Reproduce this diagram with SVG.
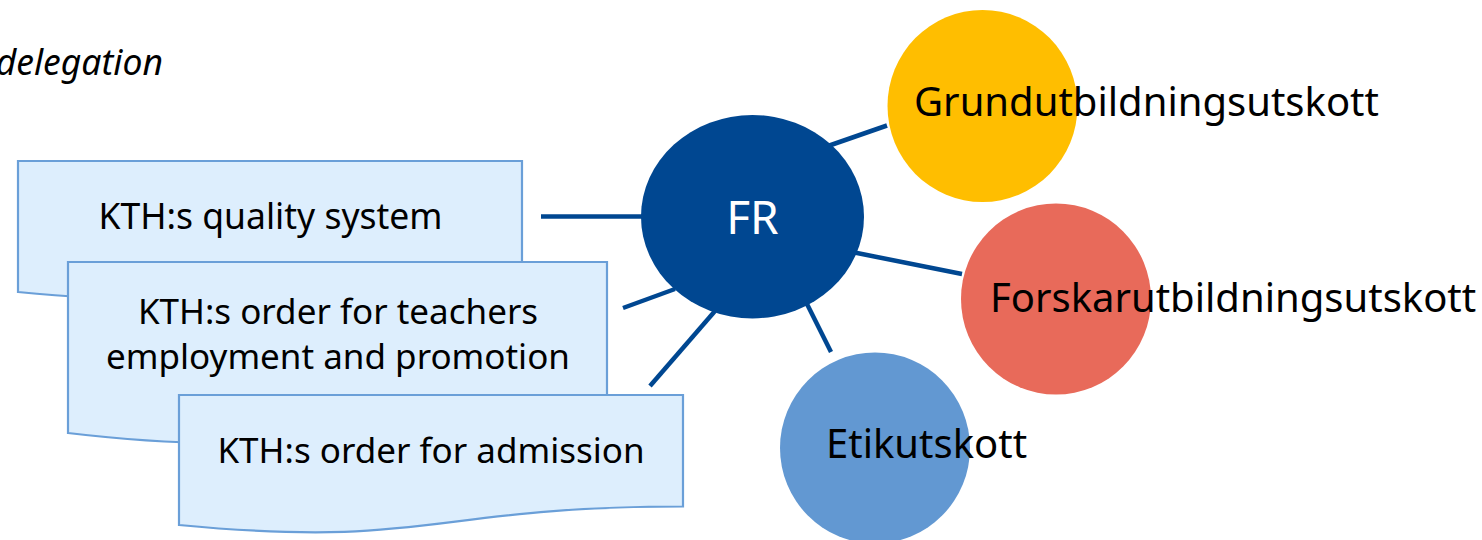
<svg xmlns="http://www.w3.org/2000/svg" width="1482" height="540" viewBox="0 0 1482 540">
<style>
.doc{fill:#DDEEFD;stroke:#6A9FD8;stroke-width:2.2}
.t{font-family:"Noto Sans","Open Sans","DejaVu Sans",sans-serif;fill:#000}
.bt{font-size:35px;text-anchor:middle}
.ct{font-size:40px}
.conn line{stroke:#004791;stroke-width:4.5;stroke-linecap:butt}
</style>
<rect width="1482" height="540" fill="#fff"/>
<text class="t" x="163" y="75" font-size="35.5" font-style="italic" text-anchor="end">delegation</text>
<g id="conn" class="conn">
<line x1="541" y1="216.5" x2="645" y2="216.5"/>
<line x1="623" y1="308" x2="675" y2="289"/>
<line x1="650" y1="386" x2="715" y2="311"/>
<line x1="806" y1="302" x2="831" y2="352"/>
<line x1="828" y1="146" x2="887" y2="125.5"/>
<line x1="852" y1="252" x2="962" y2="274"/>
</g>
<g id="doc1">
<path class="doc" d="M18,161 H522 V273 C270,273 270,316 18,292 Z"/>
<text class="t bt" x="270.5" y="229" style="font-size:35.5px">KTH:s quality system</text>
</g>
<g id="doc2">
<path class="doc" d="M68,262 H607 V409 C337.5,409 337.5,465 68,433 Z"/>
<text class="t bt" x="338" y="324">KTH:s order for teachers</text>
<text class="t bt" x="338" y="369">employment and promotion</text>
</g>
<g id="doc3">
<path class="doc" d="M179,395 H683 V506.5 C431,506.5 431,549 179,525 Z"/>
<text class="t bt" x="431" y="463">KTH:s order for admission</text>
</g>
<g id="fr">
<ellipse cx="752.5" cy="216.7" rx="111.5" ry="101.7" fill="#004791"/>
<text class="t" x="752.5" y="234" font-size="46" text-anchor="middle" style="fill:#fff">FR</text>
</g>
<g id="grund">
<ellipse cx="982.5" cy="106" rx="95" ry="96" fill="#FFBE00"/>
<text class="t ct" x="914" y="116">Grundutbildningsutskott</text>
</g>
<g id="forskar">
<ellipse cx="1056" cy="299" rx="95" ry="95.5" fill="#E86A5A"/>
<text class="t ct" x="990" y="312">Forskarutbildningsutskott</text>
</g>
<g id="etik">
<ellipse cx="875" cy="448" rx="95" ry="95.5" fill="#6298D2"/>
<text class="t ct" x="826" y="458">Etikutskott</text>
</g>
</svg>
